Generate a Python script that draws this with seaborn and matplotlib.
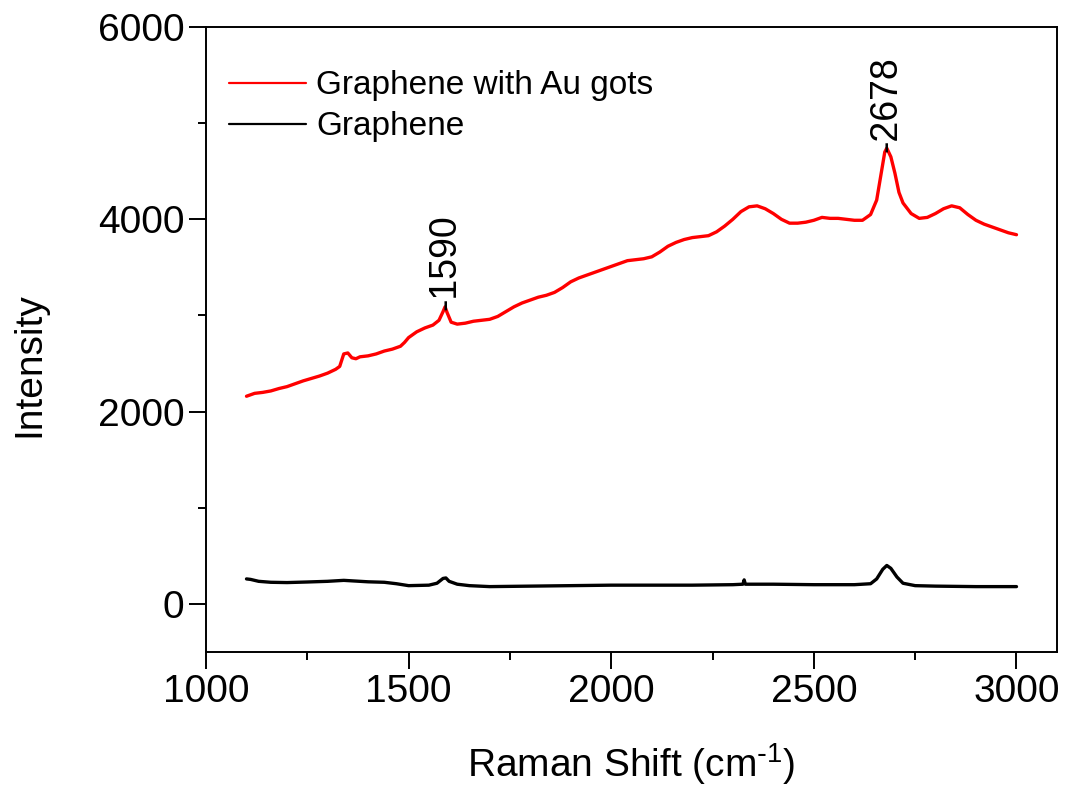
import numpy as np
import pandas as pd
import matplotlib
matplotlib.use("Agg")
import matplotlib.pyplot as plt
from matplotlib.ticker import MultipleLocator
import seaborn as sns

# red curve: graphene with Au dots
AU_SHIFT = [1100, 1120, 1140, 1160, 1180, 1200, 1220, 1240, 1260, 1280, 1300, 1320,
            1330, 1340, 1350, 1360, 1370, 1380, 1400, 1420, 1440, 1460, 1480, 1490,
            1500, 1520, 1540, 1560, 1575, 1585, 1590, 1595, 1605, 1620, 1640, 1660,
            1680, 1700, 1720, 1740, 1760, 1780, 1800, 1820, 1840, 1860, 1880, 1900,
            1920, 1940, 1960, 1980, 2000, 2020, 2040, 2060, 2080, 2100, 2120, 2140,
            2160, 2180, 2200, 2220, 2240, 2260, 2280, 2300, 2320, 2340, 2360, 2380,
            2400, 2420, 2440, 2460, 2480, 2500, 2520, 2540, 2560, 2580, 2600, 2620,
            2640, 2655, 2665, 2675, 2680, 2690, 2700, 2710, 2720, 2740, 2760, 2780,
            2800, 2820, 2840, 2860, 2880, 2900, 2920, 2940, 2960, 2980, 3000]
AU_INT = [2160, 2190, 2200, 2215, 2240, 2260, 2290, 2320, 2345, 2370, 2400, 2440,
          2470, 2600, 2610, 2560, 2550, 2570, 2580, 2600, 2630, 2650, 2680, 2720,
          2770, 2830, 2870, 2900, 2950, 3040, 3090, 3030, 2930, 2910, 2920, 2940,
          2950, 2960, 2990, 3040, 3090, 3130, 3160, 3190, 3210, 3240, 3290, 3350,
          3390, 3420, 3450, 3480, 3510, 3540, 3570, 3580, 3590, 3610, 3660, 3720,
          3760, 3790, 3810, 3820, 3830, 3870, 3930, 4000, 4080, 4130, 4140, 4110,
          4060, 4000, 3960, 3960, 3970, 3990, 4020, 4010, 4010, 4000, 3990, 3990,
          4050, 4200, 4450, 4700, 4740, 4650, 4480, 4280, 4170, 4060, 4010, 4020,
          4060, 4110, 4140, 4120, 4050, 3990, 3950, 3920, 3890, 3860, 3840]

# black curve: bare graphene
GR_SHIFT = [1100, 1110, 1130, 1160, 1200, 1250, 1300, 1340, 1360, 1400, 1440, 1470,
            1500, 1550, 1570, 1585, 1592, 1600, 1620, 1650, 1700, 1800, 1900, 2000,
            2100, 2200, 2300, 2325, 2328, 2331, 2400, 2500, 2600, 2640, 2655, 2670,
            2680, 2690, 2705, 2720, 2750, 2800, 2900, 3000]
GR_INT = [260, 255, 235, 225, 222, 228, 235, 245, 240, 230, 225, 210,
          190, 195, 215, 265, 270, 235, 205, 190, 180, 185, 190, 195,
          195, 195, 200, 205, 250, 205, 205, 200, 200, 210, 260, 360,
          400, 370, 280, 215, 190, 185, 180, 180]

PEAKS = [1590, 2678]
PEAK_Y = [3060, 4700]

df = pd.concat([
    pd.DataFrame({"shift": AU_SHIFT, "intensity": AU_INT, "sample": "Graphene with Au gots"}),
    pd.DataFrame({"shift": GR_SHIFT, "intensity": GR_INT, "sample": "Graphene"}),
])

sns.set_style("ticks")
plt.rcParams["font.family"] = ["Liberation Sans", "DejaVu Sans"]
plt.rcParams["mathtext.default"] = "regular"
plt.rcParams["text.color"] = "black"
plt.rcParams["axes.labelcolor"] = "black"
plt.rcParams["xtick.color"] = "black"
plt.rcParams["ytick.color"] = "black"

fig = plt.figure(figsize=(10.65, 7.88), dpi=100)
ax = fig.add_axes([0.1934, 0.1726, 0.7991, 0.7931])

sns.lineplot(data=df, x="shift", y="intensity", hue="sample",
             palette={"Graphene with Au gots": "#ff0000", "Graphene": "black"},
             linewidth=2.4, ax=ax, sort=False, estimator=None)

for p, y in zip(PEAKS, PEAK_Y):
    ax.text(p, y, "-" + str(p), rotation=90, ha="center", va="bottom", fontsize=27)

ax.set_xlim(1000, 3100)
ax.set_ylim(-500, 6000)
ax.xaxis.set_major_locator(MultipleLocator(500))
ax.xaxis.set_minor_locator(MultipleLocator(250))
ax.yaxis.set_major_locator(MultipleLocator(2000))
ax.yaxis.set_minor_locator(MultipleLocator(1000))
ax.tick_params(which="major", length=12, width=1.4, labelsize=28, direction="out")
ax.tick_params(which="minor", length=6, width=1.4, direction="out")
for s in ax.spines.values():
    s.set_linewidth(1.4)
    s.set_color("black")

ax.set_xlabel(r"Raman Shift (cm$^{\text{-}1}$)", fontsize=28, labelpad=23)
ax.set_ylabel("Intensity", fontsize=28)
ax.yaxis.set_label_coords(-0.186, 0.46)

leg = ax.legend(loc="upper left", bbox_to_anchor=(0.0, 0.968), frameon=False,
                fontsize=24, handlelength=2.3, handletextpad=0.3, labelspacing=0.3,
                borderaxespad=0.3)
for line in leg.get_lines():
    line.set_linewidth(1.6)

fig.savefig("out.png", dpi=100)
